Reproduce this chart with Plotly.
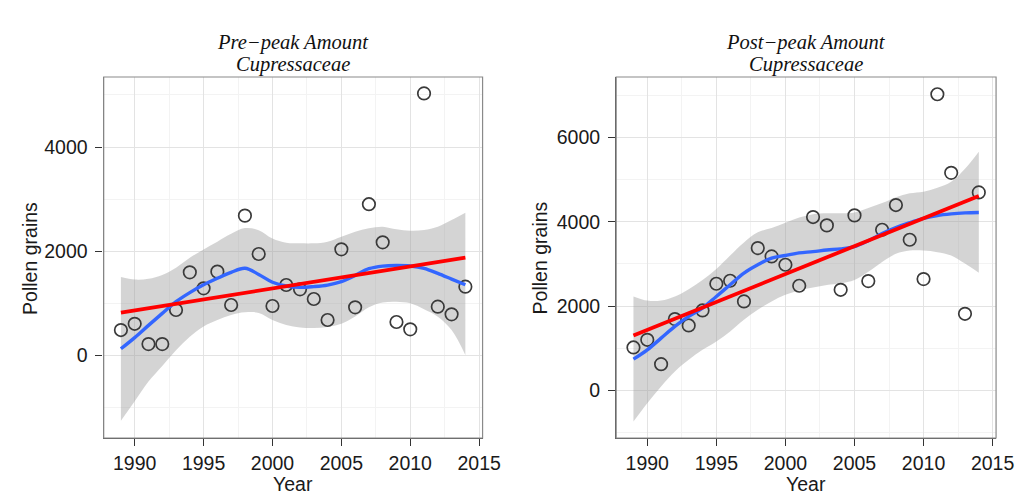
import plotly.graph_objects as go

# ---------------- data ----------------
years = list(range(1989, 2015))

pre_values = [480, 600, 210, 210, 865, 1590, 1282, 1603, 962, 2680, 1942, 942, 1346,
              1263, 1077, 673, 2032, 917, 2900, 2167, 635, 494, 5030, 929, 782, 1314]
post_values = [1020, 1202, 624, 1692, 1541, 1897, 2530, 2601, 2111, 3375, 3178, 2980, 2482,
               4111, 3913, 2387, 4150, 2593, 3810, 4395, 3573, 2640, 7021, 5159, 1818, 4695]

pre_smooth = [120, 335, 570, 800, 1025, 1200, 1350, 1475, 1590, 1667, 1550, 1400, 1327,
              1300, 1315, 1345, 1410, 1530, 1660, 1710, 1720, 1711, 1667, 1570, 1460, 1350]
pre_upper = [1500, 1450, 1465, 1538, 1680, 1870, 2030, 2180, 2330, 2440, 2400, 2240, 2160,
             2147, 2147, 2179, 2276, 2372, 2436, 2468, 2417, 2391, 2404, 2468, 2596, 2737]
pre_lower = [-1265, -890, -510, -210, 90, 350, 550, 673, 770, 820, 810, 673, 577,
             530, 520, 540, 600, 740, 920, 1010, 1025, 994, 880, 737, 481, 0]

post_smooth = [743, 964, 1241, 1518, 1755, 1953, 2229, 2506, 2783, 2980, 3138, 3200, 3260,
               3290, 3330, 3356, 3410, 3550, 3720, 3860, 3976, 4077, 4147, 4186, 4209, 4220]
post_upper = [2229, 2130, 2130, 2229, 2400, 2620, 2880, 3200, 3510, 3750, 3850, 3975, 4100,
              4180, 4200, 4200, 4220, 4325, 4441, 4581, 4674, 4713, 4806, 4945, 5255, 5660]
post_lower = [-735, -300, 95, 450, 727, 964, 1162, 1399, 1676, 1913, 2111, 2269, 2370,
              2440, 2500, 2540, 2620, 2814, 3046, 3240, 3318, 3318, 3279, 3201, 3008, 2790]

lm_years = [1989, 2014]
pre_lm = [814, 1872]
post_lm = [1304, 4612]

x_ticks = [1990, 1995, 2000, 2005, 2010, 2015]
pre_yticks = [0, 2000, 4000]
post_yticks = [0, 2000, 4000, 6000]

titles = [("Pre\u2212peak Amount", "Cupressaceae"), ("Post\u2212peak Amount", "Cupressaceae")]

# ---------------- layout geometry (page pixels) ----------------
REF_W, H = 1023, 500
FIG_W = 1038   # the page is photographed slightly compressed horizontally


def px(x):
    return x / REF_W


def py(y):
    return 1 - y / H


panels = [
    dict(x0=104, x1=484, yr=[-1596, 5346], yt=pre_yticks,
         vals=pre_values, sm=pre_smooth, up=pre_upper, lo=pre_lower, lm=pre_lm, ylab=30),
    dict(x0=618, x1=999, yr=[-1126, 7430], yt=post_yticks,
         vals=post_values, sm=post_smooth, up=post_upper, lo=post_lower, lm=post_lm, ylab=542),
]
y_top, y_bot = 77, 438

fig = go.Figure()
TICKFONT = dict(family="Liberation Sans, Arial, sans-serif", size=19.5, color="#1a1a1a")
LABFONT = dict(family="Liberation Sans, Arial, sans-serif", size=19.5, color="#1a1a1a")
TITLEFONT = dict(family="Liberation Serif, Times New Roman, serif", size=20.5, color="#111111")

annotations = []
shapes = []
for i, p in enumerate(panels):
    xa = "x" if i == 0 else "x2"
    ya = "y" if i == 0 else "y2"
    fig.add_trace(go.Scatter(x=years, y=p["up"], mode="lines", line=dict(width=0, shape="spline"),
                             xaxis=xa, yaxis=ya, showlegend=False, hoverinfo="skip"))
    fig.add_trace(go.Scatter(x=years, y=p["lo"], mode="lines", line=dict(width=0, shape="spline"),
                             fill="tonexty", fillcolor="rgba(153,153,153,0.42)",
                             xaxis=xa, yaxis=ya, showlegend=False, hoverinfo="skip"))
    fig.add_trace(go.Scatter(x=years, y=p["vals"], mode="markers",
                             marker=dict(symbol="circle-open", size=12.5,
                                         line=dict(width=1.7, color="#3a3a3a"), color="#3a3a3a"),
                             xaxis=xa, yaxis=ya, showlegend=False))
    fig.add_trace(go.Scatter(x=years, y=p["sm"], mode="lines",
                             line=dict(color="#3366FF", width=3.4, shape="spline"),
                             xaxis=xa, yaxis=ya, showlegend=False))
    fig.add_trace(go.Scatter(x=lm_years, y=p["lm"], mode="lines",
                             line=dict(color="#FF0000", width=3.8),
                             xaxis=xa, yaxis=ya, showlegend=False))

    dom_x = [px(p["x0"]), px(p["x1"])]
    dom_y = [py(y_bot), py(y_top)]
    xkey = "xaxis" if i == 0 else "xaxis2"
    ykey = "yaxis" if i == 0 else "yaxis2"
    fig.update_layout(**{
        xkey: dict(domain=dom_x, range=[1987.75, 2015.25], anchor=ya,
                   tickmode="array", tickvals=x_ticks, ticktext=[str(v) for v in x_ticks],
                   ticks="outside", ticklen=7, tickwidth=1.3, tickcolor="#333333",
                   tickfont=TICKFONT, showgrid=True, gridcolor="#e3e3e3", gridwidth=1.1,
                   minor=dict(tickmode="array", tickvals=[1987.5 + 5 * k for k in range(6)],
                              showgrid=True, gridcolor="#f3f3f3", gridwidth=1, ticks=""),
                   showline=True, linecolor="#555555", linewidth=1.4, zeroline=False),
        ykey: dict(domain=dom_y, range=p["yr"], anchor=xa,
                   tickmode="array", tickvals=p["yt"], ticktext=[str(v) for v in p["yt"]],
                   ticks="outside", ticklen=7, tickwidth=1.3, tickcolor="#333333",
                   tickfont=TICKFONT, ticklabelstandoff=4,
                   showgrid=True, gridcolor="#e3e3e3", gridwidth=1.1,
                   minor=dict(tickmode="array", tickvals=[-1000 + 2000 * k for k in range(5)],
                              showgrid=True, gridcolor="#f3f3f3", gridwidth=1, ticks=""),
                   showline=True, linecolor="#555555", linewidth=1.4, zeroline=False),
    })
    shapes.append(dict(type="rect", xref="paper", yref="paper",
                       x0=dom_x[0], x1=dom_x[1], y0=dom_y[0], y1=dom_y[1],
                       line=dict(color="#8a8a8a", width=1.2), layer="above"))
    cx = px((p["x0"] + p["x1"]) / 2)
    annotations.append(dict(text="<i>%s</i>" % titles[i][0], x=cx, y=py(43), xref="paper", yref="paper",
                            showarrow=False, font=TITLEFONT, xanchor="center", yanchor="middle"))
    annotations.append(dict(text="<i>%s</i>" % titles[i][1], x=cx, y=py(64), xref="paper", yref="paper",
                            showarrow=False, font=TITLEFONT, xanchor="center", yanchor="middle"))
    annotations.append(dict(text="Year", x=cx, y=py(484), xref="paper", yref="paper",
                            showarrow=False, font=LABFONT, xanchor="center", yanchor="middle"))
    annotations.append(dict(text="Pollen grains", x=px(p["ylab"]), y=py(258), xref="paper", yref="paper",
                            showarrow=False, font=LABFONT, textangle=-90,
                            xanchor="center", yanchor="middle"))

fig.update_layout(width=FIG_W, height=H, autosize=False, margin=dict(l=0, r=0, t=0, b=0),
                  paper_bgcolor="white", plot_bgcolor="white",
                  annotations=annotations, shapes=shapes, showlegend=False)

fig.write_html("out.html",
               config={"responsive": False, "displayModeBar": False},
               post_script="document.body.style.margin='0';document.body.style.overflow='hidden';")
